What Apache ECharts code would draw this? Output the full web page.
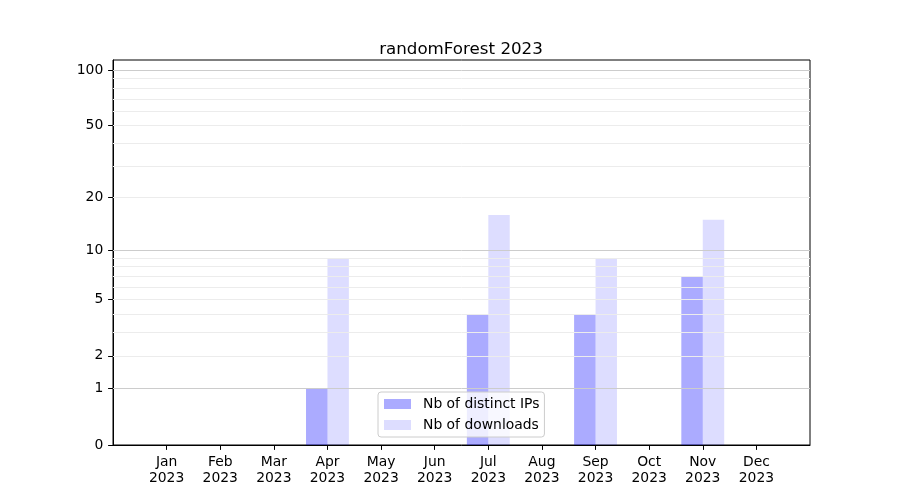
<!DOCTYPE html>
<html><head><meta charset="utf-8">
<script src="https://cdn.jsdelivr.net/npm/echarts@6/dist/echarts.min.js"></script>
<style>html,body{margin:0;padding:0;background:#fff}#c{width:900px;height:500px}</style>
</head><body><div id="c"></div>
<script>
var months = ['Jan','Feb','Mar','Apr','May','Jun','Jul','Aug','Sep','Oct','Nov','Dec'];
var year = '2023';
var ipsValues = [0,0,0,1,0,0,4,0,4,0,7,0];
var downloadValues = [0,0,0,9,0,0,16,0,9,0,15,0];
var yTickLabels = [0,1,2,5,10,20,50,100];
var majorGrid = [1,10,100];
var minorGrid = [2,3,4,5,6,7,8,9,20,30,40,50,60,70,80,90];
var yTopValue = 113.5;

function tf(v){ return Math.log10(1 + v); }
function inv(t){ return Math.round(Math.pow(10, t) - 1); }

var cats = [''].concat(months.map(function(m){ return m + '\n' + year; })).concat(['']);
function pad(arr){ return [null].concat(arr.map(function(v){ return v > 0 ? tf(v) : null; })).concat([null]); }

function gl(v, color){
  return [{xAxis: 0, yAxis: tf(v), lineStyle:{color: color, width:1, type:'solid'}}, {xAxis: cats.length - 1, yAxis: tf(v)}];
}
var gridLines = minorGrid.map(function(v){ return gl(v, '#ececec'); })
  .concat(majorGrid.map(function(v){ return gl(v, '#cccccc'); }));

var chart = echarts.init(document.getElementById('c'), null, {renderer:'canvas'});
chart.setOption({
  animation: false,
  backgroundColor: '#ffffff',
  textStyle: {fontFamily: 'DejaVu Sans'},
  title: {
    text: 'randomForest ' + year,
    left: 456, top: 36, textAlign: 'center',
    textStyle: {fontFamily: 'DejaVu Sans', fontSize: 16.7, fontWeight: 'normal', color: '#000'}
  },
  grid: {left: 113, right: 90, top: 60, bottom: 55, show: true, borderColor: '#000', borderWidth: 1, backgroundColor: 'transparent'},
  legend: {
    data: ['Nb of distinct IPs', 'Nb of downloads'],
    orient: 'vertical', left: 378, top: 392,
    itemWidth: 27, itemHeight: 10, itemGap: 7,
    padding: [5, 5, 5, 6],
    icon: 'rect',
    backgroundColor: 'rgba(255,255,255,0.8)',
    borderColor: '#cccccc', borderWidth: 1, borderRadius: 3,
    textStyle: {fontFamily: 'DejaVu Sans', fontSize: 13.9, color: '#000', padding: [0,0,0,7]}
  },
  xAxis: {
    type: 'category', data: cats, boundaryGap: false,
    axisLine: {show: true, lineStyle: {color: '#000', width: 1}},
    axisTick: {show: true, length: 4.9, lineStyle: {color: '#000'}, interval: function(i){ return i > 0 && i < cats.length - 1; }},
    axisLabel: {interval: 0, color: '#000', fontFamily: 'DejaVu Sans', fontSize: 13.9, lineHeight: 16, margin: 9},
    splitLine: {show: false}
  },
  yAxis: {
    type: 'value', min: 0, max: tf(yTopValue),
    axisLine: {show: true, lineStyle: {color: '#000', width: 1}},
    axisTick: {show: true, length: 4.9, lineStyle: {color: '#000'}, customValues: yTickLabels.map(tf)},
    axisLabel: {color: '#000', fontFamily: 'DejaVu Sans', fontSize: 13.9, margin: 9.7,
      customValues: yTickLabels.map(tf),
      formatter: function(v){ return String(inv(v)); }},
    splitLine: {show: false}
  },
  series: [
    {
      type: 'line', data: [], silent: true, z: 1,
      markLine: {silent: true, symbol: ['none','none'], label: {show: false}, animation: false, data: gridLines}
    },
    {
      name: 'Nb of distinct IPs', type: 'bar', data: pad(ipsValues), z: 2,
      barWidth: '40%', barGap: '0%',
      itemStyle: {color: 'rgba(0,0,255,0.33)'}
    },
    {
      name: 'Nb of downloads', type: 'bar', data: pad(downloadValues), z: 2,
      barWidth: '40%', barGap: '0%',
      itemStyle: {color: 'rgba(0,0,255,0.135)'}
    }
  ]
});
</script></body></html>
